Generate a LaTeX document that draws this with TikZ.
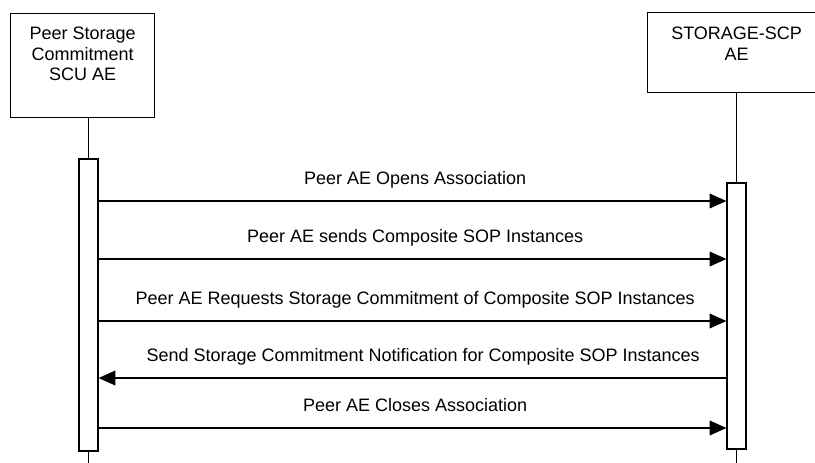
\documentclass[tikz,border=0pt]{standalone}
\usepackage{fontspec}
\setmainfont{Liberation Sans}
\usetikzlibrary{arrows.meta,positioning}

\begin{document}
\begin{tikzpicture}[x=0.75pt,y=-0.75pt,
  every node/.style={font=\fontsize{13.5}{15.4}\selectfont},
  aebox/.style={draw,line width=0.9pt,anchor=north west,inner sep=0pt},
  aetext/.style={align=center,inner sep=0pt},
  actbar/.style={draw,line width=0.9pt,fill=white,minimum width=14.25pt,inner sep=0pt},
  life/.style={line width=0.9pt},
  msg/.style={line width=0.9pt,-{Triangle[length=12.5pt,width=11pt]}},
  msgtext/.style={midway,anchor=base,yshift=12.75pt,inner sep=0pt}]

% page is 815 x 462 px, the right box runs off the page
\clip (0,0) rectangle (815,462);

% application entities
\node[aebox,minimum width=108pt,minimum height=78pt] (scu) at (10,13) {};
\node[aetext,below=10.5pt of scu.north] (scutext) {Peer Storage\\Commitment\\SCU AE};
\node[aebox,minimum width=133.5pt,minimum height=60pt] (scp) at (647,12) {};
\node[aetext,below=11.25pt of scp.north] (scptext) {STORAGE-SCP\\AE};

% activation bars
\node[actbar,minimum height=219pt] (scubar) at (88.5,305) {};
\node[actbar,minimum height=199.5pt] (scpbar) at (736.5,316) {};

% lifelines, above and below the bars
\draw[life] (scubar.north) -- (scubar.north |- scu.south);
\draw[life] (scpbar.north) -- (scpbar.north |- scp.south);
\draw[life] (scubar.south) -- ++(0,20);
\draw[life] (scpbar.south) -- ++(0,20);

% heights of the messages
\coordinate (m1) at (0,201);
\coordinate (m2) at (0,259);
\coordinate (m3) at (0,321);
\coordinate (m4) at (0,378);
\coordinate (m5) at (0,428);

\draw[msg] (scubar.east |- m1) -- node[msgtext,xshift=2pt] {Peer AE Opens Association} (scpbar.west |- m1);
\draw[msg] (scubar.east |- m2) -- node[msgtext,xshift=2pt] {Peer AE sends Composite SOP Instances} (scpbar.west |- m2);
\draw[msg] (scubar.east |- m3) -- node[msgtext,xshift=2pt] {Peer AE Requests Storage Commitment of Composite SOP Instances} (scpbar.west |- m3);
% the notification goes back to the SCU
\draw[msg] (scpbar.west |- m4) -- node[msgtext,xshift=8pt] {Send Storage Commitment Notification for Composite SOP Instances} (scubar.east |- m4);
\draw[msg] (scubar.east |- m5) -- node[msgtext,xshift=2pt] {Peer AE Closes Association} (scpbar.west |- m5);

\end{tikzpicture}
\end{document}
